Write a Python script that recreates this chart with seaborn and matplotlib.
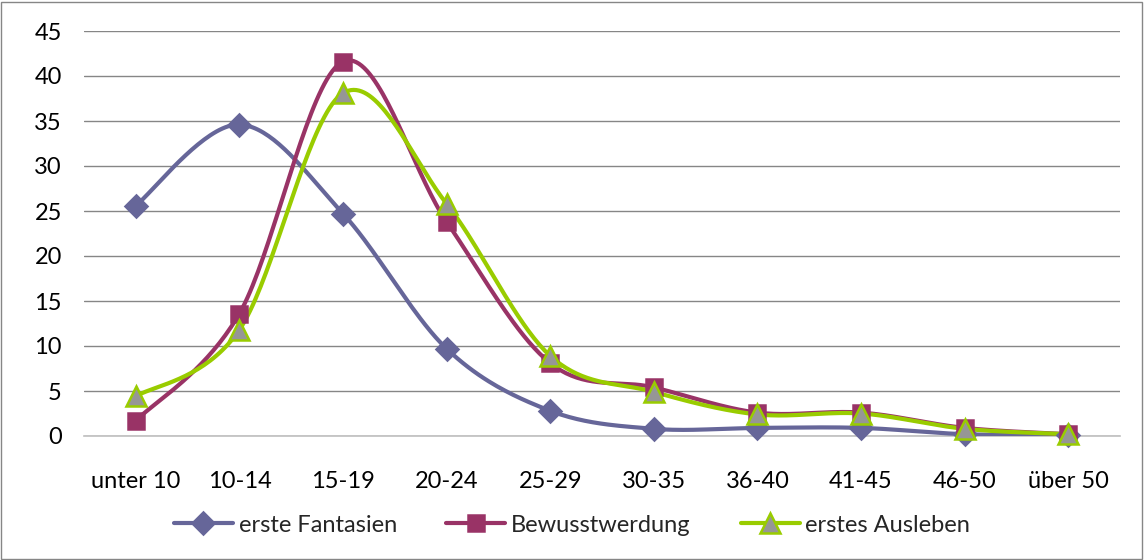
import numpy as np
import pandas as pd
import matplotlib
matplotlib.use("Agg")
import matplotlib.pyplot as plt
from matplotlib.lines import Line2D
from matplotlib.patches import Rectangle
import seaborn as sns

categories = ["unter 10", "10-14", "15-19", "20-24", "25-29", "30-35",
              "36-40", "41-45", "46-50", "über 50"]
erste_fantasien = [25.6, 34.6, 24.7, 9.7, 2.8, 0.8, 0.9, 0.9, 0.2, 0.1]
bewusstwerdung = [1.7, 13.6, 41.6, 23.8, 8.1, 5.4, 2.6, 2.6, 0.9, 0.2]
erstes_ausleben = [4.4, 11.8, 38.1, 25.8, 8.9, 4.9, 2.4, 2.5, 0.8, 0.2]
series_names = ["erste Fantasien", "Bewusstwerdung", "erstes Ausleben"]
y_ticks = [0, 5, 10, 15, 20, 25, 30, 35, 40, 45]

sns.set_theme(style="white")
plt.rcParams['font.family'] = ['Lato', 'DejaVu Sans']


def smooth(xs, ys, n=40):
    """Catmull-Rom smoothing (like Excel's smoothed lines)."""
    xs = np.asarray(xs, float)
    ys = np.asarray(ys, float)
    px = np.concatenate([[xs[0]], xs, [xs[-1]]])
    py = np.concatenate([[ys[0]], ys, [ys[-1]]])
    out_x, out_y = [], []
    t = np.linspace(0, 1, n)
    for i in range(1, len(px) - 2):
        p0x, p1x, p2x, p3x = px[i - 1], px[i], px[i + 1], px[i + 2]
        p0y, p1y, p2y, p3y = py[i - 1], py[i], py[i + 1], py[i + 2]
        c1x = p1x + (p2x - p0x) / 6
        c1y = p1y + (p2y - p0y) / 6
        c2x = p2x - (p3x - p1x) / 6
        c2y = p2y - (p3y - p1y) / 6
        bx = (1 - t) ** 3 * p1x + 3 * (1 - t) ** 2 * t * c1x + 3 * (1 - t) * t ** 2 * c2x + t ** 3 * p2x
        by = (1 - t) ** 3 * p1y + 3 * (1 - t) ** 2 * t * c1y + 3 * (1 - t) * t ** 2 * c2y + t ** 3 * p2y
        out_x.extend(bx)
        out_y.extend(by)
    return np.array(out_x), np.array(out_y)


fig = plt.figure(figsize=(11.44, 5.6), dpi=100)
ax = fig.add_axes([84 / 1144, 1 - 436 / 560, (1120 - 84) / 1144, (436 - 31) / 560])

styles = [
    dict(color="#666699", marker="D", mfc="#666699", mec="#666699", ms=11),
    dict(color="#993366", marker="s", mfc="#993366", mec="#993366", ms=12),
    dict(color="#99CC00", marker="^", mfc="#969696", mec="#99CC00", ms=14),
]
data = [erste_fantasien, bewusstwerdung, erstes_ausleben]
xpos = np.arange(len(categories))

handles = []
for name, vals, st in zip(series_names, data, styles):
    sx, sy = smooth(xpos, vals)
    df = pd.DataFrame({"x": sx, "y": sy})
    sns.lineplot(data=df, x="x", y="y", ax=ax, sort=False, color=st["color"],
                 lw=3.0, zorder=3)
    ax.plot(xpos, vals, ls="none", marker=st["marker"], ms=st["ms"],
            mfc=st["mfc"], mec=st["mec"], mew=1.8, zorder=4, clip_on=False)
    handles.append(Line2D([0], [0], color=st["color"], lw=3.0, marker=st["marker"],
                          ms=st["ms"], mfc=st["mfc"], mec=st["mec"], mew=1.8))

ax.set_xlim(-0.5, len(categories) - 0.5)
ax.set_ylim(0, 45)
ax.set_yticks(y_ticks)
ax.set_xticks(xpos)
ax.set_xticklabels(categories)
ax.set_xlabel("")
ax.set_ylabel("")
ax.yaxis.grid(True, color="#868686", lw=1.0)
ax.set_axisbelow(True)
for side in ["left", "right", "top"]:
    ax.spines[side].set_visible(False)
ax.spines["bottom"].set_color("#BFBFBF")
ax.spines["bottom"].set_linewidth(1.2)
ax.tick_params(axis="y", length=0, pad=16, labelsize=17, colors="black")
ax.tick_params(axis="x", length=0, pad=25, labelsize=17, colors="black")

fig.legend(handles, series_names, loc="center", bbox_to_anchor=(0.5, 1 - 525 / 560),
           ncol=3, frameon=False, fontsize=17, handlelength=2.5, handletextpad=0.25,
           columnspacing=2.1)

fig.patches.append(Rectangle((1 / 1144, 1 / 560), 1141 / 1144, 557 / 560,
                             transform=fig.transFigure, fill=False,
                             edgecolor="#868686", lw=1.0))

fig.savefig("out.png", dpi=100)
